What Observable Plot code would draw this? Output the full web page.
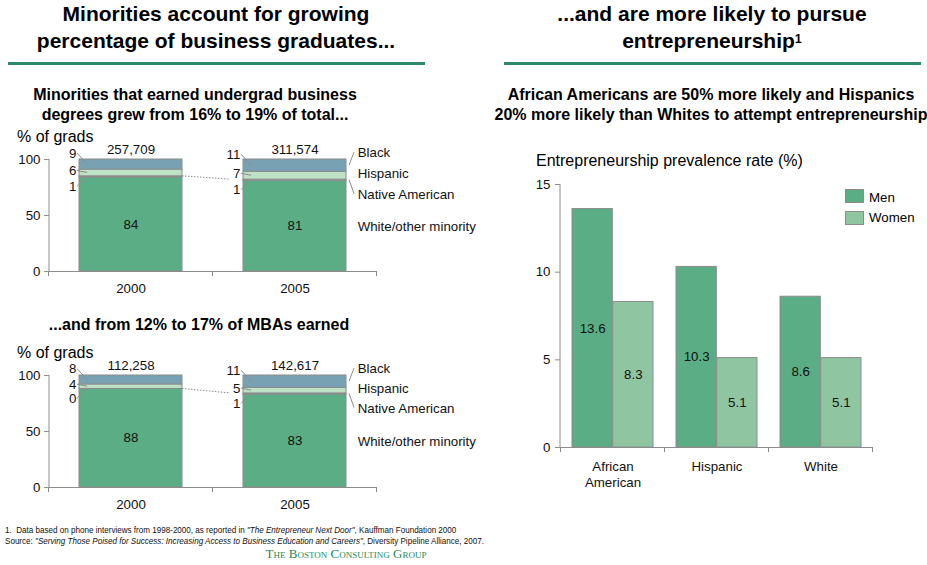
<!DOCTYPE html>
<html><head><meta charset="utf-8">
<script src="https://cdn.jsdelivr.net/npm/d3@7"></script>
<script src="https://cdn.jsdelivr.net/npm/@observablehq/plot@0.6"></script>
<style>
body{margin:0;background:#fff;}
#page{position:relative;width:927px;height:565px;overflow:hidden;font-family:"Liberation Sans",Arial,sans-serif;color:#000;}
.abs{position:absolute;}
.title{font-weight:bold;font-size:21px;line-height:27px;text-align:center;white-space:nowrap;}
.sub{font-weight:bold;font-size:16px;line-height:20px;text-align:center;white-space:nowrap;}
.rule{height:2.5px;background:#2a8a6a;}
.lbl{font-size:16px;line-height:18px;white-space:nowrap;}
.leg{font-size:13.3px;line-height:16px;white-space:nowrap;}
.sw{width:19px;height:14px;box-sizing:border-box;border:1px solid #8c8c8c;}
.foot{font-family:"Liberation Sans",Arial,sans-serif;font-size:9.5px;line-height:11px;white-space:nowrap;color:#111;transform:scaleX(0.85);transform-origin:0 0;}
.logo{font-family:"Liberation Serif","DejaVu Serif",serif;font-variant:small-caps;font-size:13px;line-height:18px;color:#1f8a57;text-align:center;white-space:nowrap;}
sup{font-size:60%;vertical-align:top;position:relative;top:-1px;}
</style></head>
<body><div id="page">
<div class="abs title" style="left:16px;top:0px;width:400px;">Minorities account for growing<br>percentage of business graduates...</div>
<div class="abs title" style="left:512px;top:0px;width:400px;">...and are more likely to pursue<br>entrepreneurship<sup>1</sup></div>
<div class="abs rule" style="left:8px;top:62px;width:417px;"></div>
<div class="abs rule" style="left:504px;top:62px;width:417px;"></div>
<div class="abs sub" style="left:0px;top:85px;width:390px;">Minorities that earned undergrad business<br>degrees grew from 16% to 19% of total...</div>
<div class="abs sub" style="left:491px;top:85px;width:440px;">African Americans are 50% more likely and Hispanics<br>20% more likely than Whites to attempt entrepreneurship</div>
<div class="abs sub" style="left:0px;top:315px;width:398px;">...and from 12% to 17% of MBAs earned</div>
<div class="abs lbl" style="left:17px;top:128px;">% of grads</div>
<div class="abs lbl" style="left:17px;top:344px;">% of grads</div>
<div class="abs lbl" style="left:536px;top:152px;">Entrepreneurship prevalence rate (%)</div>
<div id="c1" class="abs" style="left:0px;top:130px;"></div>
<div id="c2" class="abs" style="left:0px;top:346px;"></div>
<div id="c3" class="abs" style="left:520px;top:170px;"></div>
<div class="abs sw" style="left:845px;top:189px;background:#5aad84;"></div>
<div class="abs leg" style="left:869px;top:190px;">Men</div>
<div class="abs sw" style="left:845px;top:211px;background:#8fc5a0;"></div>
<div class="abs leg" style="left:869px;top:210px;">Women</div>
<div class="abs foot" style="left:5px;top:524px;">1.&nbsp; Data based on phone interviews from 1998-2000, as reported in <i>"The Entrepreneur Next Door"</i>, Kauffman Foundation 2000<br>Source: <i>"Serving Those Poised for Success: Increasing Access to Business Education and Careers"</i>, Diversity Pipeline Alliance, 2007.</div>
<div class="abs logo" style="left:246px;top:545px;width:200px;">The Boston Consulting Group</div>
</div>
<script>
// ---------- data ----------
const years = ["2000", "2005"];
const groups = ["White/other minority", "Native American", "Hispanic", "Black"];
const ugWhite = [84, 81];
const ugNative = [1, 1];
const ugHispanic = [6, 7];
const ugBlack = [9, 11];
const ugTotals = ["257,709", "311,574"];
const mbaWhite = [88, 83];
const mbaNative = [0, 1];
const mbaHispanic = [4, 5];
const mbaBlack = [8, 11];
const mbaTotals = ["112,258", "142,617"];
const races = ["African American", "Hispanic", "White"];
const sexes = ["Men", "Women"];
const menRate = [13.6, 10.3, 8.6];
const womenRate = [8.3, 5.1, 5.1];

// ---------- styles ----------
const AX = "#8c8c8c";
const TXT = "#111";
const groupColors = ["#5aad84", "#8c8c8c", "#bde2c5", "#78a2b3"];
const sexColors = ["#5aad84", "#8fc5a0"];
const FONT = {fontFamily: "'Liberation Sans', Arial, sans-serif", fontSize: "13.3px", color: "#111", background: "transparent", overflow: "visible"};

function bandInfo(width, ml, mr, n, pi, po) {
  const step = (width - ml - mr) / (n - pi + 2 * po);
  return {step, bw: step * (1 - pi)};
}

// custom marks using Plot scales
function yLine(top) {
  return (index, scales, values, dims) => {
    const g = d3.create("svg:g");
    g.append("line").attr("x1", dims.marginLeft).attr("x2", dims.marginLeft)
      .attr("y1", scales.y(top)).attr("y2", scales.y(0)).attr("stroke", AX);
    return g.node();
  };
}
function bandTicks(domain, len) {
  return (index, scales, values, dims) => {
    const x = scales.x;
    const bw = x.bandwidth(), step = x.step();
    const y0 = scales.y(0);
    const xs = domain.map(d => x(d) - (step - bw) / 2);
    xs.push(x(domain[domain.length - 1]) + bw + (step - bw) / 2);
    const g = d3.create("svg:g").attr("stroke", AX);
    for (const px of xs) g.append("line").attr("x1", px).attr("x2", px).attr("y1", y0).attr("y2", y0 + len);
    return g.node();
  };
}

const LEFT_DY = {"Black": -11, "Hispanic": -2, "Native American": 10};
const RIGHT_DY = {"Black": -13, "Hispanic": -2, "Native American": 15, "White/other minority": 1};

function stackedChart(el, white, native, hisp, black, totals) {
  const W = 480, H = 170, ML = 49, MR = 103, MT = 29, MB = 29, PI = 0.37, PO = 0.185;
  const {bw} = bandInfo(W, ML, MR, years.length, PI, PO);
  const series = [white, native, hisp, black];
  const rows = [];
  years.forEach((yr, i) => {
    let lo = 0;
    groups.forEach((g, k) => {
      const v = series[k][i];
      rows.push({year: yr, group: g, value: v, lo, hi: lo + v, mid: lo + v / 2});
      lo += v;
    });
  });
  const totRows = years.map((yr, i) => ({year: yr, total: totals[i], sum: d3.sum(series, s => s[i])}));
  const nativeTop = yr => rows.find(r => r.year === yr && r.group === "Native American").hi;

  const leaders = (index, scales) => {
    const x = scales.x, y = scales.y, b = x.bandwidth();
    const g = d3.create("svg:g").attr("stroke", AX).attr("fill", "none");
    for (const r of rows) {
      if (r.group in LEFT_DY) {
        const bx = x(r.year), sy = y(r.mid);
        g.append("line").attr("x1", bx - 2).attr("y1", sy + LEFT_DY[r.group]).attr("x2", bx + 8).attr("y2", sy);
      }
      if (r.year === years[1] && (r.group === "Black" || r.group === "Native American")) {
        const bx = x(r.year) + b, sy = y(r.mid);
        g.append("line").attr("x1", bx + 3).attr("y1", sy).attr("x2", bx + 8).attr("y2", sy + RIGHT_DY[r.group] + (r.group === "Black" ? 0 : -1));
      }
    }
    g.append("line").attr("x1", x(years[0]) + b).attr("y1", y(nativeTop(years[0])))
      .attr("x2", x(years[1]) - 13).attr("y2", y(nativeTop(years[1])))
      .attr("stroke-dasharray", "1.5,1.5");
    return g.node();
  };

  const marks = [
    Plot.barY(rows, {x: "year", y1: "lo", y2: "hi", fill: "group", stroke: AX, strokeWidth: 1}),
    Plot.ruleY([0], {stroke: AX}),
    yLine(100),
    bandTicks(years, 5),
    Plot.axisY({ticks: [0, 50, 100], tickSize: 5, tickPadding: 4, stroke: AX, fill: TXT, label: null}),
    Plot.axisX({tickSize: 0, tickPadding: 12, fill: TXT, label: null}),
    Plot.text(totRows, {x: "year", y: "sum", text: "total", dy: -10, fill: TXT}),
    Plot.text(rows.filter(r => r.group === groups[0]), {x: "year", y: "mid", text: d => String(d.value), fill: TXT}),
    leaders
  ];
  for (const g of ["Black", "Hispanic", "Native American"]) {
    marks.push(Plot.text(rows.filter(r => r.group === g), {x: "year", y: "mid", text: d => String(d.value), dx: -bw / 2 - 3, dy: LEFT_DY[g], textAnchor: "end", fill: TXT}));
  }
  for (const g of groups) {
    marks.push(Plot.text(rows.filter(r => r.group === g && r.year === years[1]), {x: "year", y: "mid", text: "group", dx: bw / 2 + 11, dy: RIGHT_DY[g], textAnchor: "start", fill: TXT}));
  }
  const chart = Plot.plot({
    width: W, height: H, marginLeft: ML, marginRight: MR, marginTop: MT, marginBottom: MB,
    style: FONT,
    x: {domain: years, paddingInner: PI, paddingOuter: PO, axis: null},
    y: {domain: [0, 100], axis: null},
    color: {domain: groups, range: groupColors},
    marks
  });
  document.getElementById(el).appendChild(chart);
}

stackedChart("c1", ugWhite, ugNative, ugHispanic, ugBlack, ugTotals);
stackedChart("c2", mbaWhite, mbaNative, mbaHispanic, mbaBlack, mbaTotals);

// ---------- right chart ----------
{
  const W = 407, H = 330, ML = 40, MR = 54, MT = 14, MB = 53, PI = 0.22, PO = 0.11;
  const {bw} = bandInfo(W, ML, MR, races.length, PI, PO);
  const half = bw / 2;
  const menRows = races.map((r, i) => ({race: r, sex: sexes[0], value: menRate[i]}));
  const womenRows = races.map((r, i) => ({race: r, sex: sexes[1], value: womenRate[i]}));
  const chart = Plot.plot({
    width: W, height: H, marginLeft: ML, marginRight: MR, marginTop: MT, marginBottom: MB,
    style: FONT,
    x: {domain: races, paddingInner: PI, paddingOuter: PO, axis: null},
    y: {domain: [0, 15], axis: null},
    color: {domain: sexes, range: sexColors},
    marks: [
      Plot.barY(menRows, {x: "race", y: "value", fill: "sex", stroke: AX, insetRight: half}),
      Plot.barY(womenRows, {x: "race", y: "value", fill: "sex", stroke: AX, insetLeft: half}),
      Plot.ruleY([0], {stroke: AX}),
      yLine(15),
      bandTicks(races, 5),
      Plot.axisY({ticks: [0, 5, 10, 15], tickSize: 5, tickPadding: 5, stroke: AX, fill: TXT, label: null}),
      Plot.axisX({tickSize: 0, tickPadding: 12, fill: TXT, label: null, lineHeight: 1.2, tickFormat: d => d.replace(" ", "\n")}),
      Plot.text(menRows, {x: "race", y: d => d.value / 2, text: d => d.value.toFixed(1), dx: -half / 2, fill: TXT}),
      Plot.text(womenRows, {x: "race", y: d => d.value / 2, text: d => d.value.toFixed(1), dx: half / 2, fill: TXT})
    ]
  });
  document.getElementById("c3").appendChild(chart);
}
</script>
</body></html>
